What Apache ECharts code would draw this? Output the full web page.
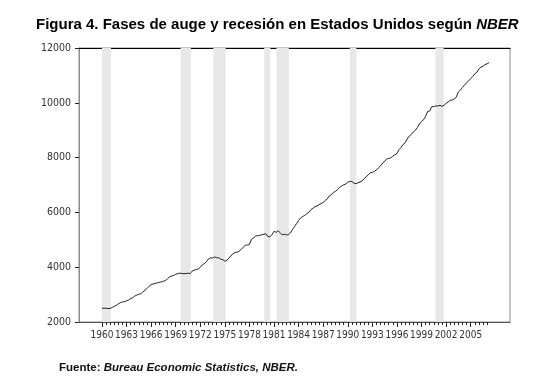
<!DOCTYPE html>
<html>
<head>
<meta charset="utf-8">
<script src="https://cdn.jsdelivr.net/npm/echarts@6/dist/echarts.min.js"></script>
<style>html,body{margin:0;padding:0;background:#fff}#c{width:551px;height:389px}</style>
</head>
<body>
<div id="c"></div>
<script>
// Quarterly series, starting 1960 Q1
const startYear = 1960;
const gdp = [
  2503, 2501, 2505, 2489,
  2497, 2530, 2570, 2612,
  2665, 2705, 2730, 2740,
  2770, 2800, 2855, 2880,
  2945, 2980, 3015, 3030,
  3100, 3155, 3225, 3300,
  3370, 3385, 3410, 3430,
  3450, 3465, 3490, 3510,
  3580, 3645, 3680, 3700,
  3745, 3760, 3785, 3770,
  3765, 3765, 3785, 3760,
  3855, 3890, 3915, 3935,
  4000, 4085, 4130, 4200,
  4300, 4345, 4335, 4375,
  4345, 4345, 4290, 4275,
  4220, 4250, 4340, 4410,
  4500, 4530, 4550, 4585,
  4650, 4730, 4800, 4810,
  4830, 5020, 5070, 5140,
  5150, 5155, 5185, 5200,
  5225, 5120, 5110, 5190,
  5310, 5270, 5330, 5260,
  5180, 5200, 5180, 5185,
  5250, 5370, 5480, 5590,
  5710, 5800, 5850, 5890,
  5950, 6010, 6100, 6150,
  6210, 6240, 6290, 6320,
  6365, 6435, 6495, 6600,
  6640, 6730, 6765, 6830,
  6910, 6960, 7010, 7030,
  7110, 7130, 7130, 7070,
  7045, 7085, 7115, 7150,
  7230, 7300, 7370, 7450,
  7460, 7500, 7550, 7630,
  7700, 7800, 7860, 7950,
  7970, 7990, 8050, 8100,
  8150, 8290, 8370, 8480,
  8540, 8680, 8780, 8840,
  8940, 9000, 9100, 9230,
  9320, 9380, 9510, 9680,
  9700, 9860, 9860, 9890,
  9880, 9910, 9870, 9910,
  9980, 10030, 10090, 10100,
  10135, 10215, 10400, 10470,
  10560, 10650, 10730, 10800,
  10880, 10960, 11060, 11110,
  11240, 11300, 11330, 11400,
  11420, 11470
];
// Recession phases (NBER), decimal years
const recessionStart = [1960.0, 1969.6, 1973.6, 1979.8, 1981.3, 1990.25, 2000.7];
const recessionEnd   = [1961.1, 1970.85, 1975.1, 1980.55, 1982.8, 1991.05, 2001.7];
const yTicks = [2000, 4000, 6000, 8000, 10000, 12000];
const xLabelYears = [1960,1963,1966,1969,1972,1975,1978,1981,1984,1987,1990,1993,1996,1999,2002,2005];
const xMinorTicks = [];
for (let y = 1960; y <= 2007; y += 0.5) xMinorTicks.push(y);

const lineData = gdp.map((v, i) => [startYear + i * 0.25, v]);
const bands = recessionStart.map((s, i) => [{xAxis: s}, {xAxis: recessionEnd[i]}]);

const chart = echarts.init(document.getElementById('c'), null, {renderer: 'canvas'});
const axisFont = "'DejaVu Sans Condensed','Liberation Sans Narrow',sans-serif";
chart.setOption({
  animation: false,
  backgroundColor: '#fff',
  title: [{
    left: 31, top: 12,
    text: '{b|Figura 4. Fases de auge y recesión en Estados Unidos según }{i|NBER}',
    textStyle: {
      rich: {
        b: {fontFamily: "'Liberation Sans',Arial,sans-serif", fontWeight: 'bold', fontSize: 15, color: '#000'},
        i: {fontFamily: "'Liberation Sans',Arial,sans-serif", fontWeight: 'bold', fontStyle: 'italic', fontSize: 15, color: '#000'}
      }
    }
  }, {
    left: 54, top: 357,
    text: '{b|Fuente: }{i|Bureau Economic Statistics, NBER.}',
    textStyle: {
      rich: {
        b: {fontFamily: "'Liberation Sans',Arial,sans-serif", fontWeight: 'bold', fontSize: 11.5, color: '#111'},
        i: {fontFamily: "'Liberation Sans',Arial,sans-serif", fontWeight: 'bold', fontStyle: 'italic', fontSize: 11.5, color: '#111'}
      }
    }
  }],
  grid: {left: 79, top: 48, right: 41, bottom: 67, show: true, borderColor: '#8c8c8c', borderWidth: 1, backgroundColor: 'transparent'},
  xAxis: [{
    type: 'value', min: 1957.2, max: 2009.8,
    splitLine: {show: false},
    axisLine: {show: true, onZero: false, lineStyle: {color: '#555', width: 1}},
    axisTick: {show: true, customValues: xMinorTicks, length: 3, lineStyle: {color: '#222'}},
    axisLabel: {show: true, customValues: xLabelYears, hideOverlap: false, showMinLabel: true, showMaxLabel: true,
      color: '#333', fontFamily: axisFont, fontSize: 10, margin: 8, formatter: v => String(Math.round(v))}
  }, {
    type: 'value', min: 1957.2, max: 2009.8, position: 'bottom',
    splitLine: {show: false},
    axisLine: {show: false},
    axisTick: {show: true, customValues: xLabelYears, length: 5, lineStyle: {color: '#222'}},
    axisLabel: {show: false}
  }, {
    type: 'value', min: 1957.2, max: 2009.8, position: 'top',
    splitLine: {show: false},
    axisLine: {show: true, onZero: false, lineStyle: {color: '#000', width: 1}},
    axisTick: {show: false},
    axisLabel: {show: false}
  }],
  yAxis: {
    type: 'value', min: 2000, max: 12000, interval: 2000,
    splitLine: {show: false},
    axisLine: {show: true, onZero: false, lineStyle: {color: '#8c8c8c'}},
    axisTick: {show: true, length: 4, lineStyle: {color: '#222'}},
    axisLabel: {color: '#333', fontFamily: axisFont, fontSize: 10.5, margin: 8, formatter: v => String(v)}
  },
  series: [{
    type: 'line',
    data: lineData,
    showSymbol: false,
    lineStyle: {color: '#222', width: 1},
    silent: true,
    markArea: {
      silent: true,
      itemStyle: {color: '#e8e8e8'},
      data: bands
    },
    z: 3
  }]
});
</script>
</body>
</html>
